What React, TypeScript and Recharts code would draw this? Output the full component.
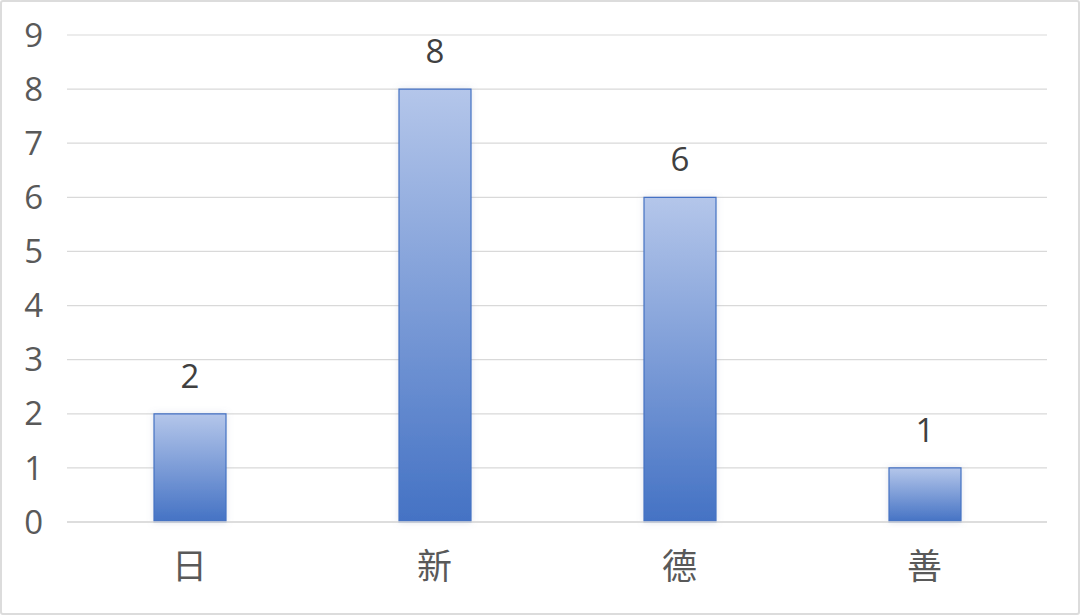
import React from 'react';
import { BarChart, Bar, XAxis, YAxis, CartesianGrid, LabelList } from 'recharts';

// category labels and counts
const categories = ['日', '新', '德', '善'];
const counts = [2, 8, 6, 1];
const yTicks = [0, 1, 2, 3, 4, 5, 6, 7, 8, 9];

const data = categories.map((name, i) => ({ name, value: counts[i] }));

const FONT = "'Open Sans', 'Noto Sans CJK SC', sans-serif";
const TEXT = '#595959';

const App: React.FC = () => {
  return (
    <div style={{ position: 'fixed', left: 0, top: 0, width: 1080, height: 615, background: '#fff' }}>
      <BarChart
        width={1080}
        height={615}
        data={data}
        margin={{ top: 35, right: 33, bottom: 0, left: 0 }}
      >
        <defs>
          <linearGradient id="barFill" x1="0" y1="0" x2="0" y2="1">
            <stop offset="0%" stopColor="#b4c6ea" />
            <stop offset="100%" stopColor="#4472c4" />
          </linearGradient>
          <filter id="barShadow" x="-20%" y="-10%" width="140%" height="120%">
            <feDropShadow dx="0" dy="0" stdDeviation="3" floodColor="#7f8fb0" floodOpacity="0.25" />
          </filter>
        </defs>
        <CartesianGrid vertical={false} stroke="#d9d9d9" strokeWidth={1.2} />
        <XAxis
          dataKey="name"
          height={93}
          axisLine={{ stroke: '#d9d9d9', strokeWidth: 1.5 }}
          tickLine={false}
          tickMargin={26}
          tick={{ fontSize: 35, fill: TEXT, fontFamily: FONT }}
        />
        <YAxis
          width={67}
          domain={[0, 9]}
          ticks={yTicks}
          axisLine={false}
          tickLine={false}
          tickMargin={18}
          tick={{ fontSize: 33, fill: TEXT, fontFamily: FONT }}
        />
        <Bar
          dataKey="value"
          barSize={72}
          fill="url(#barFill)"
          stroke="#4472c4"
          strokeWidth={1.2}
          filter="url(#barShadow)"
          isAnimationActive={false}
        >
          <LabelList
            dataKey="value"
            position="top"
            offset={26}
            style={{ fontSize: 33, fill: '#404040', fontFamily: FONT }}
          />
        </Bar>
      </BarChart>
      <div
        style={{
          position: 'absolute',
          inset: 0,
          border: '2px solid #dcdcdc',
          borderRadius: 3,
          pointerEvents: 'none',
        }}
      />
    </div>
  );
};

export default App;
